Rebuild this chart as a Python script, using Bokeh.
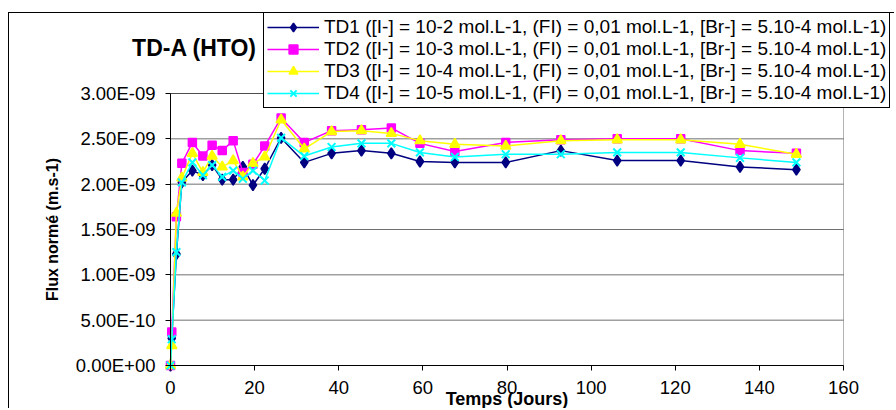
import numpy as np
from bokeh.plotting import figure
from bokeh.models import (Legend, LegendItem, Label, BoxAnnotation, FixedTicker,
                          CustomJSTickFormatter, Range1d)
from bokeh.embed import file_html
from bokeh.resources import INLINE

# ---- data (flux in units of 1e-9 m.s-1) ----
jours = [0, 0.3, 1.4, 2.7, 5.2, 7.7, 9.9, 12.3, 14.9, 17.2, 19.6, 22.4, 26.3,
         31.8, 38.3, 45.4, 52.5, 59.3, 67.6, 79.7, 92.8, 106.2, 121.3, 135.4, 148.8]
td1 = [0, 0.30, 1.23, 2.02, 2.15, 2.10, 2.21, 2.05, 2.05, 2.19, 1.99, 2.17, 2.51,
       2.24, 2.34, 2.37, 2.34, 2.25, 2.24, 2.24, 2.37, 2.26, 2.26, 2.19, 2.16]
td2 = [0, 0.37, 1.64, 2.23, 2.46, 2.31, 2.43, 2.37, 2.48, 2.13, 2.22, 2.42, 2.73,
       2.46, 2.59, 2.60, 2.62, 2.45, 2.36, 2.46, 2.49, 2.50, 2.50, 2.37, 2.34]
td3 = [0, 0.22, 1.68, 2.07, 2.34, 2.13, 2.31, 2.19, 2.26, 2.08, 2.23, 2.30, 2.71,
       2.39, 2.58, 2.59, 2.56, 2.48, 2.44, 2.42, 2.48, 2.49, 2.49, 2.44, 2.33]
td4 = [0, 0.29, 1.25, 2.02, 2.24, 2.10, 2.21, 2.08, 2.15, 2.06, 2.15, 2.04, 2.51,
       2.31, 2.41, 2.45, 2.45, 2.35, 2.30, 2.33, 2.33, 2.35, 2.35, 2.29, 2.24]

series_labels = [
    "TD1 ([I-] = 10-2 mol.L-1, (FI) = 0,01 mol.L-1, [Br-] = 5.10-4 mol.L-1)",
    "TD2 ([I-] = 10-3 mol.L-1, (FI) = 0,01 mol.L-1, [Br-] = 5.10-4 mol.L-1)",
    "TD3 ([I-] = 10-4 mol.L-1, (FI) = 0,01 mol.L-1, [Br-] = 5.10-4 mol.L-1)",
    "TD4 ([I-] = 10-5 mol.L-1, (FI) = 0,01 mol.L-1, [Br-] = 5.10-4 mol.L-1)",
]
x_ticks = [0, 20, 40, 60, 80, 100, 120, 140, 160]
y_ticks = [0, 0.5e-9, 1.0e-9, 1.5e-9, 2.0e-9, 2.5e-9, 3.0e-9]

title_text = "TD-A (HTO)"
x_label = "Temps (Jours)"
y_label = "Flux normé (m.s-1)"

FONT = "Liberation Sans"

# ---- layout (pixels) ----
W, H = 886, 396               # canvas; whole canvas is the frame
PL, PB = 161, 352             # plot-area left / bottom inside canvas
PLOT_W, PLOT_H = 673, 272     # plot-area size for 0..160 / 0..3e-9
X_MAX, Y_MAX = 160, 3e-9
sx = X_MAX / PLOT_W
sy = Y_MAX / PLOT_H

p = figure(width=W, height=H, output_backend="svg", toolbar_location=None,
           x_range=Range1d(-PL * sx, (W - PL) * sx),
           y_range=Range1d(-(H - PB) * sy, PB * sy),
           min_border_left=0, min_border_right=0,
           min_border_top=0, min_border_bottom=0)
p.margin = (12, 0, 0, 8)
p.styles = {"border-left": "1px solid black", "border-top": "1px solid black"}
p.background_fill_color = "white"
p.border_fill_color = "white"
p.outline_line_color = None

# axes placed at the data origin
p.xaxis.fixed_location = 0
p.yaxis.fixed_location = 0
p.xaxis.ticker = FixedTicker(ticks=x_ticks)
p.yaxis.ticker = FixedTicker(ticks=y_ticks)
p.xaxis.bounds = (0, X_MAX)
p.yaxis.bounds = (0, Y_MAX)
p.yaxis.formatter = CustomJSTickFormatter(code="""
    const s = tick.toExponential(2).toUpperCase();
    const parts = s.split("E");
    const e = parts[1];
    const sign = e[0];
    const d = e.slice(1).padStart(2, "0");
    return parts[0] + "E" + sign + d;
""")
for ax in (p.xaxis[0], p.yaxis[0]):
    ax.axis_line_color = "black"
    ax.axis_line_width = 1
    ax.major_tick_line_color = "black"
    ax.major_tick_out = 5
    ax.major_tick_in = 0
    ax.minor_tick_line_color = None
    ax.major_label_text_font = FONT
    ax.major_label_text_font_size = "18.5px"
    ax.major_label_text_color = "black"
    ax.major_label_standoff = 10

p.xgrid.visible = False
p.ygrid.visible = False
# horizontal grid lines limited to the plot area
p.segment(x0=[0] * len(y_ticks), x1=[X_MAX] * len(y_ticks), y0=y_ticks, y1=y_ticks,
          line_color="#707070", line_width=1, level="underlay")

colors = ["#000080", "#FF00FF", "#FFFF00", "#00FFFF"]
markers = ["diamond", "square", "triangle", "x"]
sizes = [11, 8, 10, 11]
mk_widths = [1.5, 1.5, 1.5, 2]
datas = [td1, td2, td3, td4]

items = []
x = np.array(jours, dtype=float)
for lab, col, mk, sz, mw, d in zip(series_labels, colors, markers, sizes, mk_widths, datas):
    y = np.array(d, dtype=float) * 1e-9
    r_line = p.line(x, y, line_color=col, line_width=1.5)
    r_pts = p.scatter(x, y, marker=mk, size=sz, fill_color=col,
                      line_color=col, line_width=mw)
    items.append(LegendItem(label=lab, renderers=[r_line, r_pts]))

# plot-area border
p.add_layout(BoxAnnotation(left=0, right=X_MAX, bottom=0, top=Y_MAX,
                           fill_alpha=0, line_color="black", line_width=1))

# legend: left edge 93px right of plot-area left, bottom 257px above x axis
legend = Legend(items=items, location=(PL + 93, (H - PB) + 257))
legend.label_text_font = FONT
legend.label_text_font_size = "19px"
legend.label_text_color = "black"
legend.border_line_color = "black"
legend.border_line_width = 1
legend.border_line_alpha = 1
legend.background_fill_color = "white"
legend.background_fill_alpha = 1
legend.padding = 3
legend.spacing = 0
legend.margin = 0
legend.glyph_width = 52
legend.glyph_height = 22
legend.label_height = 22
legend.label_standoff = 5
p.add_layout(legend, "center")

p.add_layout(Label(x=5.7, y=3.5e-9, text=title_text, text_font=FONT,
                   text_font_size="23px", text_font_style="bold",
                   text_align="center", text_baseline="middle",
                   text_color="black"))
p.add_layout(Label(x=80, y=-3.7e-10, text=x_label, text_font=FONT,
                   text_font_size="18px", text_font_style="bold",
                   text_align="center", text_baseline="middle",
                   text_color="black"))
p.add_layout(Label(x=-28.0, y=1.5e-9, text=y_label, text_font=FONT,
                   text_font_size="16px", text_font_style="bold",
                   text_align="center", text_baseline="middle",
                   angle=np.pi / 2, text_color="black"))

open("out.html", "w").write(file_html(p, INLINE))
